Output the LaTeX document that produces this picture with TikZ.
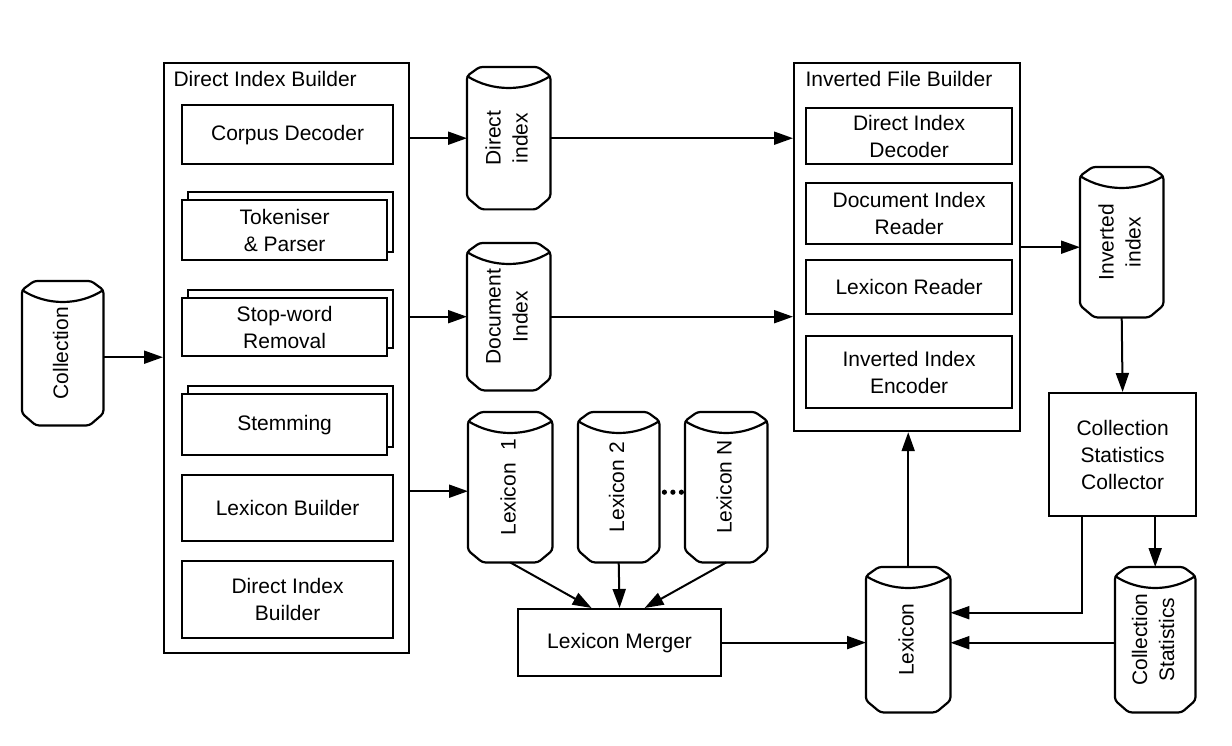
\documentclass[tikz,border=0pt]{standalone}
\usepackage{fontspec}
\setmainfont{Liberation Sans}
\usepackage{graphicx}
\usetikzlibrary{arrows.meta,calc}
\newcommand\placenode[7]{\node[#1, minimum width={(#5-#3)*1pt}, minimum height={(#6-#4)*1pt}] (#2) at (#3,#4) {#7};}
\newcommand\vtext[1]{\rotatebox{90}{\begin{tabular}{@{}c@{}}#1\end{tabular}}}
\newcommand\cylout[1]{%
 \draw[ln, rounded corners=3pt]
 ($(#1.north west)+(0,9)$) -- ($(#1.south west)+(0,-12)$) -- ($(#1.south west)!0.17!(#1.south east)$) -- ($(#1.south east)!0.17!(#1.south west)$) -- ($(#1.south east)+(0,-12)$) -- ($(#1.north east)+(0,9)$) -- ($(#1.north east)!0.15!(#1.north west)$) -- ($(#1.north west)!0.15!(#1.north east)$) -- cycle;
 \draw[ln] ($(#1.north west)+(0,9)$) .. controls ($(#1.north west)!0.3!(#1.north east)+(0,25)$) and ($(#1.north east)!0.3!(#1.north west)+(0,25)$) .. ($(#1.north east)+(0,9)$);}
\tikzset{
 ln/.style={line width=2.2pt},
 box/.style={draw, line width=2.2pt, fill=white, rectangle, inner sep=0pt, align=center, anchor=north west},
 cyl/.style={rectangle, inner sep=0pt, anchor=north west},
 arr/.style={line width=2pt, -{Triangle[length=19pt,width=13pt]}},
}
\begin{document}
\begin{tikzpicture}[x=1pt,y=-1pt, every node/.style={font=\fontsize{21}{27}\selectfont}]
\useasboundingbox[fill=white] (0,0) rectangle (1232,746);
% Direct Index Builder
\placenode{box}{dib}{163}{62}{408}{652}{}
\node[anchor=base west] (dibt) at (170,87) {Direct Index Builder};
\placenode{box}{cd}{181}{104}{392}{163}{Corpus Decoder}
\placenode{box}{tokb}{187}{191}{392}{251}{}
\placenode{box}{tok}{181}{199}{386}{259}{Tokeniser\\\& Parser}
\placenode{box}{swb}{187}{289}{392}{347}{}
\placenode{box}{sw}{181}{297}{386}{355}{Stop-word\\Removal}
\placenode{box}{stb}{187}{385}{392}{446}{}
\placenode{box}{st}{181}{393}{386}{454}{Stemming}
\placenode{box}{lb}{181}{474}{392}{540}{Lexicon Builder}
\placenode{box}{dibi}{181}{560}{392}{637}{Direct Index\\Builder}
% Inverted File Builder
\placenode{box}{ifb}{793}{62}{1019}{430}{}
\node[anchor=base west] (ifbt) at (802,87) {Inverted File Builder};
\placenode{box}{did}{805}{107}{1011}{163}{Direct Index\\Decoder}
\placenode{box}{dir}{805}{182}{1011}{243}{Document Index\\Reader}
\placenode{box}{lr}{805}{259}{1011}{313}{Lexicon Reader}
\placenode{box}{iie}{805}{335}{1011}{407}{Inverted Index\\Encoder}
% other boxes
\placenode{box}{csc}{1048}{392}{1195}{515}{Collection\\Statistics\\Collector}
\placenode{box}{merger}{517}{608}{720}{675}{Lexicon Merger}
% cylinders
\placenode{cyl}{coll}{22}{281}{103}{425}{\vtext{Collection}}
\placenode{cyl}{di}{467}{67}{550}{209}{\vtext{Direct\\index}}
\placenode{cyl}{doc}{467}{243}{550}{390}{\vtext{Document\\Index}}
\placenode{cyl}{lex1}{468}{412}{552}{562}{\vtext{Lexicon\hspace{0.6em}1}}
\placenode{cyl}{lex2}{578}{412}{659}{562}{\vtext{Lexicon 2}}
\placenode{cyl}{lexN}{685}{412}{767}{562}{\vtext{Lexicon N}}
\placenode{cyl}{inv}{1080}{167}{1163}{317}{\vtext{Inverted\\index}}
\placenode{cyl}{lexm}{866}{567}{950}{712}{\vtext{Lexicon}}
\placenode{cyl}{cstat}{1115}{567}{1195}{712}{\vtext{Collection\\Statistics}}
\cylout{coll}\cylout{di}\cylout{doc}\cylout{lex1}\cylout{lex2}\cylout{lexN}\cylout{inv}\cylout{lexm}\cylout{cstat}
\foreach \d in {5,13.5,22} {\fill ($(lex2.east)+(\d,5)$) circle (2.6);}
% connectors
\draw[arr] ([yshift=-4pt]coll.east) -- ([yshift=-4pt]coll.east -| dib.west);
\draw[arr] (dib.east |- di.west) -- (di.west);
\draw[arr] (dib.east |- doc.west) -- (doc.west);
\draw[arr] ([yshift=-4pt]dib.east |- lex1.west) -- ([yshift=-4pt]lex1.west);
\draw[arr] (di.east) -- (di.east -| ifb.west);
\draw[arr] (doc.east) -- (doc.east -| ifb.west);
\draw[arr] ([yshift=-5pt]ifb.east |- inv.west) -- ([yshift=-5pt]inv.west);
\draw[arr] (inv.south) -- (csc.north);
\draw[arr] (cstat.north |- csc.south) -- (cstat.north);
\draw[arr] ([xshift=-40.5pt]csc.south) |- ([yshift=27pt]lexm.east);
\draw[arr] ([yshift=-3pt]cstat.west) -- ([yshift=-3pt]cstat.west -| lexm.east);
\draw[arr] (lexm.north) -- (lexm.north |- ifb.south);
\draw[arr] (merger.east) -- (merger.east -| lexm.west);
\draw[arr] (lex1.south) -- ([xshift=-28pt]merger.north);
\draw[arr] (lex2.south) -- (merger.north);
\draw[arr] (lexN.south) -- ([xshift=25pt]merger.north);
\end{tikzpicture}
\end{document}
